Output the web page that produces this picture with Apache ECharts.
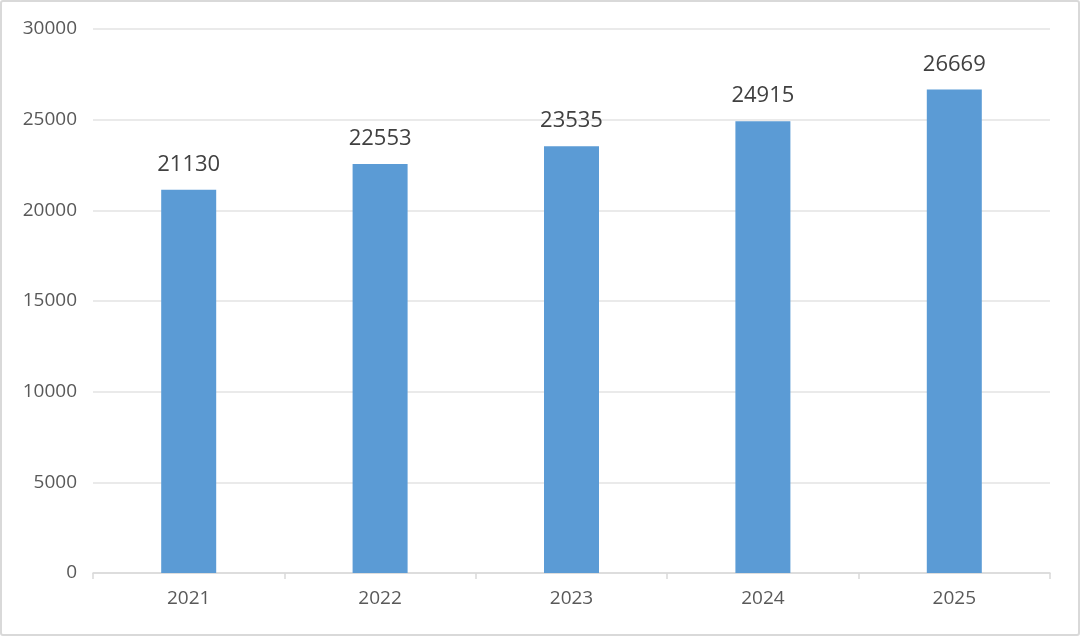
<!DOCTYPE html>
<html><head><meta charset="utf-8">
<script src="https://cdn.jsdelivr.net/npm/echarts@6/dist/echarts.min.js"></script>
<style>
html,body{margin:0;padding:0;background:#fff;}
#wrap{position:absolute;left:0;top:0;width:1076px;height:632px;border:2px solid #d9d9d9;border-radius:3px;}
#c{width:1080px;height:636px;position:absolute;left:-2px;top:-2px;}
</style></head>
<body><div id="wrap"><div id="c"></div></div>
<script>
const categories = ['2021','2022','2023','2024','2025'];
const values = [21130, 22553, 23535, 24915, 26669];
const yTicks = {min:0, max:30000, interval:5000};
const chart = echarts.init(document.getElementById('c'));
chart.setOption({
  animation:false,
  grid:{left:93,right:30,top:29,bottom:63},
  xAxis:{type:'category',data:categories,
    axisLine:{lineStyle:{color:'#d9d9d9',width:1.5}},
    axisTick:{show:true,length:6,lineStyle:{color:'#d9d9d9',width:1.5}},
    axisLabel:{color:'#595959',fontSize:19,fontFamily:'Open Sans',margin:16}},
  yAxis:{type:'value',min:yTicks.min,max:yTicks.max,interval:yTicks.interval,
    axisLine:{show:false},axisTick:{show:false},
    splitLine:{lineStyle:{color:'#e3e3e3',width:1.5}},
    axisLabel:{color:'#595959',fontSize:19,fontFamily:'Open Sans',margin:16,formatter:v=>String(v)}},
  series:[{type:'bar',data:values,barWidth:55,
    itemStyle:{color:'#5b9bd5'},
    label:{show:true,position:'top',distance:14,color:'#404040',fontSize:22,fontFamily:'Open Sans'}}]
});
</script></body></html>
